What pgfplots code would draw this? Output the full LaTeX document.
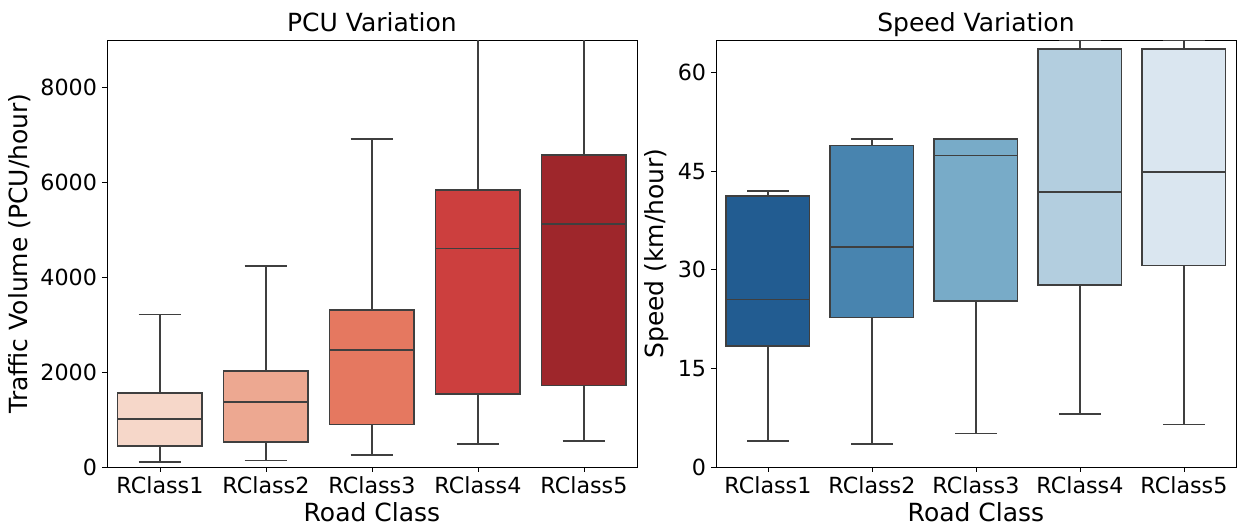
\documentclass[border=0pt]{standalone}
\usepackage{fontspec}
\setmainfont{DejaVu Sans}
\usepackage{pgfplots}
\pgfplotsset{compat=1.18}

\definecolor{lgray}{HTML}{3F3F3F}
\definecolor{rA}{HTML}{F6D7C9}
\definecolor{rB}{HTML}{EDA891}
\definecolor{rC}{HTML}{E57860}
\definecolor{rD}{HTML}{CC3F3E}
\definecolor{rE}{HTML}{9E262B}
\definecolor{bA}{HTML}{225C91}
\definecolor{bB}{HTML}{4884AF}
\definecolor{bC}{HTML}{78ABC8}
\definecolor{bD}{HTML}{B3CEDF}
\definecolor{bE}{HTML}{DAE6F0}

\pgfplotsset{
  boxax/.style={
    scale only axis, height=307.4pt,
    xmin=-0.5, xmax=4.5, ymin=0,
    xtick={0,1,2,3,4},
    xticklabels={RClass1,RClass2,RClass3,RClass4,RClass5},
    tick pos=left, tick align=outside, major tick length=3.6pt,
    every tick/.style={black, line width=0.6pt},
    axis line style={black, line width=0.6pt},
    tick label style={font=\fontsize{16}{19}\selectfont},
    label style={font=\fontsize{18}{21}\selectfont},
    title style={font=\fontsize{18}{21}\selectfont, at={(0.5,1)}, anchor=base, yshift=0pt},
    xlabel style={at={(0.5,0)}, anchor=base, yshift=-39.2pt},
    xlabel={Road Class},
    /pgf/number format/assume math mode=true,
    /pgf/number format/1000 sep={},
    scaled y ticks=false,
    unbounded coords=jump,
  },
  bxf/.style={draw=lgray, line width=1.3pt, fill=#1},
  bxl/.style={draw=lgray, line width=1.3pt},
}

\begin{document}
\begin{tikzpicture}
\begin{axis}[boxax, width=381.6pt, ymax=9000,
  ytick={0,2000,4000,6000,8000},
  title={PCU Variation}, ylabel={Traffic Volume (PCU/hour)}]
% RClass1: lw 98, q1 443, med 1013, q3 1554, uw 3214
\addplot[bxl] coordinates {(0,98) (0,443) (nan,nan) (0,1554) (0,3214) (nan,nan) (-0.2,98) (0.2,98) (nan,nan) (-0.2,3214) (0.2,3214)};
\addplot[bxf=rA] coordinates {(-0.4,443) (0.4,443) (0.4,1554) (-0.4,1554)} -- cycle;
\addplot[bxl] coordinates {(-0.4,1013) (0.4,1013)};
% RClass2: 134, 527, 1364, 2018, 4233
\addplot[bxl] coordinates {(1,134) (1,527) (nan,nan) (1,2018) (1,4233) (nan,nan) (0.8,134) (1.2,134) (nan,nan) (0.8,4233) (1.2,4233)};
\addplot[bxf=rB] coordinates {(0.6,527) (1.4,527) (1.4,2018) (0.6,2018)} -- cycle;
\addplot[bxl] coordinates {(0.6,1364) (1.4,1364)};
% RClass3: 246, 893, 2461, 3305, 6905
\addplot[bxl] coordinates {(2,246) (2,893) (nan,nan) (2,3305) (2,6905) (nan,nan) (1.8,246) (2.2,246) (nan,nan) (1.8,6905) (2.2,6905)};
\addplot[bxf=rC] coordinates {(1.6,893) (2.4,893) (2.4,3305) (1.6,3305)} -- cycle;
\addplot[bxl] coordinates {(1.6,2461) (2.4,2461)};
% RClass4: 485, 1540, 4606, 5844, upper whisker above the axis
\addplot[bxl] coordinates {(3,485) (3,1540) (nan,nan) (3,5844) (3,9800) (nan,nan) (2.8,485) (3.2,485)};
\addplot[bxf=rD] coordinates {(2.6,1540) (3.4,1540) (3.4,5844) (2.6,5844)} -- cycle;
\addplot[bxl] coordinates {(2.6,4606) (3.4,4606)};
% RClass5: 548, 1716, 5126, 6568, upper whisker above the axis
\addplot[bxl] coordinates {(4,548) (4,1716) (nan,nan) (4,6568) (4,9800) (nan,nan) (3.8,548) (4.2,548)};
\addplot[bxf=rE] coordinates {(3.6,1716) (4.4,1716) (4.4,6568) (3.6,6568)} -- cycle;
\addplot[bxl] coordinates {(3.6,5126) (4.4,5126)};
\end{axis}

\begin{axis}[boxax, at={(438.5pt,0pt)}, width=374.4pt, ymax=65,
  ytick={0,15,30,45,60},
  title={Speed Variation}, ylabel={Speed (km/hour)}]
% RClass1: 3.96, 18.38, 25.48, 41.2, 41.98
\addplot[bxl] coordinates {(0,3.96) (0,18.38) (nan,nan) (0,41.2) (0,41.98) (nan,nan) (-0.2,3.96) (0.2,3.96) (nan,nan) (-0.2,41.98) (0.2,41.98)};
\addplot[bxf=bA] coordinates {(-0.4,18.38) (0.4,18.38) (0.4,41.2) (-0.4,41.2)} -- cycle;
\addplot[bxl] coordinates {(-0.4,25.48) (0.4,25.48)};
% RClass2: 3.5, 22.74, 33.5, 48.93, 49.95
\addplot[bxl] coordinates {(1,3.5) (1,22.74) (nan,nan) (1,48.93) (1,49.95) (nan,nan) (0.8,3.5) (1.2,3.5) (nan,nan) (0.8,49.95) (1.2,49.95)};
\addplot[bxf=bB] coordinates {(0.6,22.74) (1.4,22.74) (1.4,48.93) (0.6,48.93)} -- cycle;
\addplot[bxl] coordinates {(0.6,33.5) (1.4,33.5)};
% RClass3: 5.08, 25.28, 47.41, 49.95, 49.95
\addplot[bxl] coordinates {(2,5.08) (2,25.28) (nan,nan) (1.8,5.08) (2.2,5.08) (nan,nan) (1.8,49.95) (2.2,49.95)};
\addplot[bxf=bC] coordinates {(1.6,25.28) (2.4,25.28) (2.4,49.95) (1.6,49.95)} -- cycle;
\addplot[bxl] coordinates {(1.6,47.41) (2.4,47.41)};
% RClass4: 8.02, 27.71, 41.83, 63.65, 65
\addplot[bxl] coordinates {(3,8.02) (3,27.71) (nan,nan) (3,63.65) (3,65) (nan,nan) (2.8,8.02) (3.2,8.02) (nan,nan) (2.8,65) (3.2,65)};
\addplot[bxf=bD] coordinates {(2.6,27.71) (3.4,27.71) (3.4,63.65) (2.6,63.65)} -- cycle;
\addplot[bxl] coordinates {(2.6,41.83) (3.4,41.83)};
% RClass5: 6.45, 30.66, 44.92, 63.65, 65
\addplot[bxl] coordinates {(4,6.45) (4,30.66) (nan,nan) (4,63.65) (4,65) (nan,nan) (3.8,6.45) (4.2,6.45) (nan,nan) (3.8,65) (4.2,65)};
\addplot[bxf=bE] coordinates {(3.6,30.66) (4.4,30.66) (4.4,63.65) (3.6,63.65)} -- cycle;
\addplot[bxl] coordinates {(3.6,44.92) (4.4,44.92)};
\end{axis}
\pgfresetboundingbox
\path[use as bounding box] (-77pt,-42.5pt) rectangle (818.7pt,336.2pt);
\end{tikzpicture}
\end{document}
